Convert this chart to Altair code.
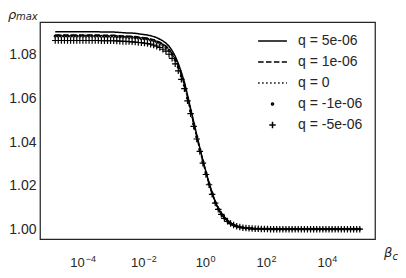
import altair as alt
import numpy as np
import pandas as pd

Q_LABELS = ["q = 5e-06", "q = 1e-06", "q = 0", "q = -1e-06", "q = -5e-06"]
BETA = np.logspace(-5, 5, 100)

RHO_Q_P5 = [1.0906] * 15 + [1.0905] * 5 + [
    1.0904, 1.0903, 1.0902, 1.0901, 1.0901, 1.0900, 1.0899, 1.0897, 1.0895, 1.0893,
    1.0891, 1.0888, 1.0884, 1.0879, 1.0872, 1.0864, 1.0854, 1.0840, 1.0820, 1.0794,
    1.0761, 1.0720, 1.0675, 1.0616, 1.0554, 1.0494, 1.0433, 1.0373, 1.0317, 1.0263,
    1.0213, 1.0168, 1.0126, 1.0095, 1.0071, 1.0053, 1.0038, 1.0027, 1.0020, 1.0014,
    1.0010, 1.0007, 1.0005, 1.0004, 1.0003, 1.0002, 1.0002, 1.0001, 1.0001, 1.0001,
] + [1.0] * 30

RHO_Q_P1 = [1.0891] * 15 + [1.0890] * 5 + [
    1.0889, 1.0888, 1.0887, 1.0887, 1.0886, 1.0885, 1.0884, 1.0882, 1.0880, 1.0879,
    1.0877, 1.0873, 1.0870, 1.0864, 1.0858, 1.0850, 1.0840, 1.0826, 1.0806, 1.0781,
    1.0748, 1.0708, 1.0664, 1.0606, 1.0545, 1.0486, 1.0426, 1.0367, 1.0312, 1.0258,
    1.0209, 1.0165, 1.0124, 1.0094, 1.0070, 1.0052, 1.0037, 1.0027, 1.0020, 1.0013,
    1.0010, 1.0007, 1.0005, 1.0004, 1.0003, 1.0002, 1.0002, 1.0001, 1.0001, 1.0001,
] + [1.0] * 30

RHO_Q_0 = [1.0888] * 15 + [1.0887] * 5 + [
    1.0886, 1.0885, 1.0884, 1.0884, 1.0883, 1.0882, 1.0881, 1.0879, 1.0877, 1.0876,
    1.0874, 1.0870, 1.0867, 1.0861, 1.0855, 1.0847, 1.0837, 1.0823, 1.0804, 1.0778,
    1.0746, 1.0706, 1.0662, 1.0604, 1.0543, 1.0484, 1.0424, 1.0366, 1.0311, 1.0258,
    1.0209, 1.0164, 1.0123, 1.0093, 1.0069, 1.0052, 1.0037, 1.0027, 1.0020, 1.0013,
    1.0010, 1.0007, 1.0005, 1.0004, 1.0003, 1.0002, 1.0002, 1.0001, 1.0001, 1.0001,
] + [1.0] * 30

RHO_Q_M1 = [1.0886] * 15 + [1.0885] * 5 + [
    1.0884, 1.0883, 1.0882, 1.0882, 1.0881, 1.0880, 1.0879, 1.0877, 1.0875, 1.0874,
    1.0872, 1.0868, 1.0865, 1.0859, 1.0853, 1.0845, 1.0835, 1.0821, 1.0802, 1.0776,
    1.0744, 1.0704, 1.0660, 1.0602, 1.0542, 1.0483, 1.0424, 1.0365, 1.0310, 1.0257,
    1.0208, 1.0164, 1.0123, 1.0093, 1.0069, 1.0051, 1.0037, 1.0027, 1.0019, 1.0013,
    1.0010, 1.0007, 1.0005, 1.0004, 1.0003, 1.0002, 1.0002, 1.0001, 1.0001, 1.0001,
] + [1.0] * 30

RHO_Q_M5 = [1.0866] * 15 + [1.0865] * 5 + [
    1.0864, 1.0863, 1.0862, 1.0862, 1.0861, 1.0860, 1.0859, 1.0857, 1.0856, 1.0854,
    1.0852, 1.0849, 1.0845, 1.0840, 1.0834, 1.0826, 1.0817, 1.0803, 1.0784, 1.0759,
    1.0727, 1.0688, 1.0645, 1.0589, 1.0530, 1.0472, 1.0414, 1.0357, 1.0303, 1.0251,
    1.0204, 1.0160, 1.0120, 1.0091, 1.0068, 1.0050, 1.0036, 1.0026, 1.0019, 1.0013,
    1.0010, 1.0007, 1.0005, 1.0004, 1.0003, 1.0002, 1.0002, 1.0001, 1.0001, 1.0001,
] + [1.0] * 30

X_TICKS_NEG = [1e-4, 1e-2]
X_EXPS_NEG = ["−4", "−2"]
X_TICKS_POS = [1.0, 1e2, 1e4]
X_EXPS_POS = ["0", "2", "4"]
Y_TICKS = [1.00, 1.02, 1.04, 1.06, 1.08]

SERIES = [RHO_Q_P5, RHO_Q_P1, RHO_Q_0, RHO_Q_M1, RHO_Q_M5]
rows = []
for lab, vals in zip(Q_LABELS, SERIES):
    for b, r in zip(BETA, vals):
        rows.append({"beta": float(b), "rho": r, "q": lab})
df = pd.DataFrame(rows)
line_df = df[df["q"].isin(Q_LABELS[:3])]
pt_df = df[df["q"].isin(Q_LABELS[3:])]

neg_df = pd.DataFrame({"beta": X_TICKS_NEG, "base": ["10"] * 2, "exp": X_EXPS_NEG})
pos_df = pd.DataFrame({"beta": X_TICKS_POS, "base": ["10"] * 3, "exp": X_EXPS_POS})

TXT = "#262626"
LINE_PATH = "M-2.4,0L2.4,0"
PLUS_PATH = "M-1,0L1,0M0,-1L0,1"

X_SCALE = alt.Scale(type="log", domain=[10 ** -5.5, 10 ** 5.5], nice=False)
x_enc = alt.X("beta:Q", scale=X_SCALE, axis=None)
y_enc = alt.Y(
    "rho:Q",
    scale=alt.Scale(domain=[0.9955, 1.0951], nice=False, zero=False),
    axis=alt.Axis(
        values=Y_TICKS, format=".2f", title=None, grid=False, ticks=False, tickSize=0,
        domain=False, labelPadding=4, labelFontSize=14, labelFont="Liberation Sans",
        labelColor=TXT,
    ),
)

leg = alt.Legend(title=None, orient="none", legendX=225.5, legendY=12)

lines = alt.Chart(line_df).mark_line(color="black", strokeWidth=1.5).encode(
    x=x_enc,
    y=y_enc,
    strokeDash=alt.StrokeDash(
        "q:N",
        scale=alt.Scale(domain=Q_LABELS, range=[[1, 0], [5.5, 2.4], [1.5, 2.5], [1, 0], [1, 0]]),
        legend=leg,
    ),
)

points = alt.Chart(pt_df).mark_point(
    filled=False, color="black", strokeWidth=1.2, opacity=1
).encode(
    x=x_enc,
    y=y_enc,
    shape=alt.Shape(
        "q:N",
        scale=alt.Scale(domain=Q_LABELS, range=[LINE_PATH, LINE_PATH, LINE_PATH, "circle", PLUS_PATH]),
        legend=leg,
    ),
    size=alt.Size(
        "q:N",
        scale=alt.Scale(type="ordinal", domain=Q_LABELS, range=[144, 144, 144, 4, 42]),
        legend=leg,
    ),
)


def tick_text(data, field, align, dx, y, size):
    return alt.Chart(data).mark_text(
        align=align, baseline="alphabetic", dx=dx, font="Liberation Sans",
        fontSize=size, color=TXT,
    ).encode(x=alt.X("beta:Q", scale=X_SCALE, axis=None), y=alt.value(y), text=f"{field}:N")


def label(txt, x, y, size):
    return alt.Chart(alt.InlineData(values=[{"t": txt}])).mark_text(
        align="left", baseline="alphabetic", font="DejaVu Sans", fontStyle="italic",
        fontSize=size, color=TXT,
    ).encode(text="t:N", x=alt.value(x), y=alt.value(y))


chart = alt.layer(
    lines,
    points,
    tick_text(neg_df, "base", "right", -1, 245, 13),
    tick_text(neg_df, "exp", "left", 0, 240, 9),
    tick_text(pos_df, "base", "right", 2.6, 245, 13),
    tick_text(pos_df, "exp", "left", 3.0, 240, 9),
    label("ρ", -32, -3, 13),
    label("max", -24, -2, 10),
    label("β", 344, 235, 13),
    label("c", 352.5, 238, 10),
).properties(
    width=335,
    height=217,
    padding={"left": 32, "top": 14, "right": 23, "bottom": 31},
    autosize=alt.AutoSizeParams(type="none"),
).configure_view(
    stroke=TXT, strokeWidth=1.25
).configure_legend(
    labelFontSize=14, labelFont="Liberation Sans", labelColor=TXT, labelOffset=18.5,
    symbolStrokeWidth=1.5, symbolStrokeColor="black", symbolOpacity=1, rowPadding=7,
    padding=0,
)

chart.save("out.html", embed_options={"renderer": "svg", "actions": False})
